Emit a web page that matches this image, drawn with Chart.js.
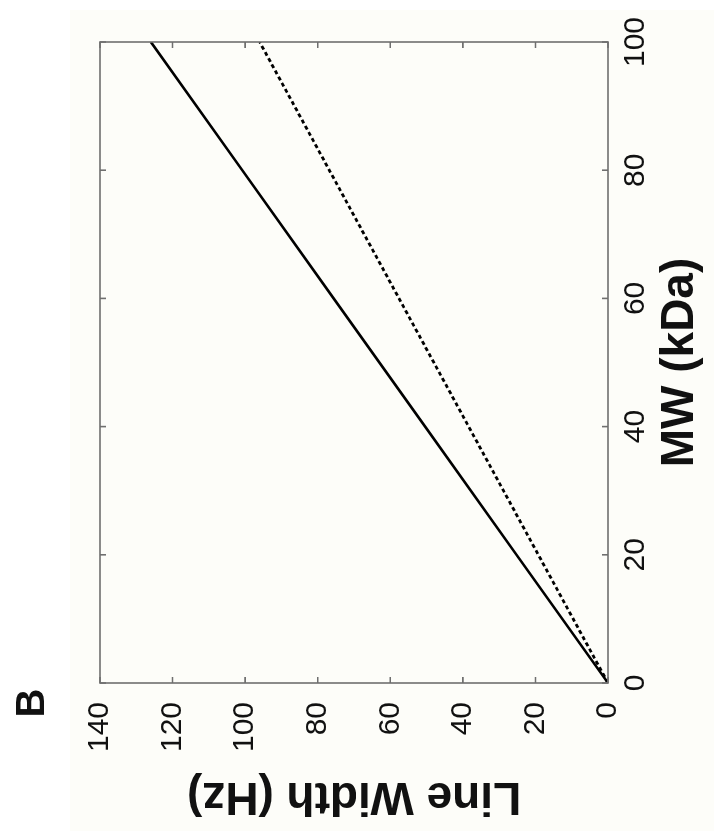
<!DOCTYPE html>
<html>
<head>
<meta charset="utf-8">
<script src="https://cdn.jsdelivr.net/npm/chart.js@4/dist/chart.umd.min.js"></script>
<style>
  html, body { margin: 0; padding: 0; background: #ffffff; overflow: hidden; }
  #wrap {
    position: absolute; left: 0; top: 0; width: 831px; height: 714px;
    transform-origin: 0 0;
    transform: translateY(831px) rotate(-90deg);
  }
</style>
</head>
<body>
<div id="wrap"><canvas id="c" width="831" height="714"></canvas></div>
<script>
// Data (figure is shown rotated 90° counter-clockwise)
const mwValues = [0, 20, 40, 60, 80, 100];                 // MW (kDa)
const solidLineWidth = [0, 25.2, 50.4, 75.6, 100.8, 126];   // solid curve (Hz)
const dashedLineWidth = [0, 19.2, 38.4, 57.6, 76.8, 96];    // dashed curve (Hz)
const xTicks = [0, 20, 40, 60, 80, 100];
const yTicks = [0, 20, 40, 60, 80, 100, 120, 140];
const xTitle = 'MW (kDa)';
const yTitle = 'Line Width (Hz)';
const panelLabel = 'B';

const FONT = "'Liberation Sans', Arial, Helvetica, sans-serif";
const AXIS_COLOR = '#6f6f6f';

const toPts = (xs, ys) => xs.map((x, i) => ({ x: x, y: ys[i] }));

const framePlugin = {
  id: 'frame',
  beforeDraw(chart) {
    const ctx = chart.ctx;
    ctx.save();
    ctx.fillStyle = '#ffffff';
    ctx.fillRect(0, 0, chart.width, chart.height);
    ctx.fillStyle = '#fdfdf9';
    ctx.fillRect(0, 70, 821, chart.height - 70);
    ctx.restore();
  },
  afterDraw(chart) {
    const ctx = chart.ctx;
    const a = chart.chartArea;
    const xs = chart.scales.x, ys = chart.scales.y;
    const tl = 6;
    ctx.save();
    ctx.strokeStyle = AXIS_COLOR;
    ctx.lineWidth = 1.6;
    ctx.beginPath();
    xTicks.forEach(v => {
      const p = xs.getPixelForValue(v);
      ctx.moveTo(p, a.bottom); ctx.lineTo(p, a.bottom - tl);
      ctx.moveTo(p, a.top); ctx.lineTo(p, a.top + tl);
    });
    yTicks.forEach(v => {
      const p = ys.getPixelForValue(v);
      ctx.moveTo(a.left, p); ctx.lineTo(a.left + tl, p);
      ctx.moveTo(a.right, p); ctx.lineTo(a.right - tl, p);
    });
    ctx.stroke();
    ctx.strokeRect(a.left, a.top, a.right - a.left, a.bottom - a.top);
    ctx.fillStyle = '#111';
    ctx.font = 'bold 40px ' + FONT;
    ctx.textAlign = 'center';
    ctx.textBaseline = 'middle';
    ctx.fillText(panelLabel, 128, 33);
    ctx.restore();
  }
};

new Chart(document.getElementById('c'), {
  type: 'scatter',
  data: {
    datasets: [
      {
        label: 'solid',
        data: toPts(mwValues, solidLineWidth),
        showLine: true,
        borderColor: '#000000',
        borderWidth: 2.6,
        pointRadius: 0,
        tension: 0
      },
      {
        label: 'dashed',
        data: toPts(mwValues, dashedLineWidth),
        showLine: true,
        borderColor: '#000000',
        borderWidth: 2.8,
        borderDash: [4, 3],
        pointRadius: 0,
        tension: 0
      }
    ]
  },
  options: {
    responsive: false,
    animation: false,
    devicePixelRatio: 1,
    layout: { padding: { left: 0, right: 42, top: 100, bottom: 0 } },
    plugins: { legend: { display: false }, tooltip: { enabled: false } },
    scales: {
      x: {
        type: 'linear', min: 0, max: 100,
        afterBuildTicks: s => { s.ticks = xTicks.map(v => ({ value: v })); },
        afterFit: s => { s.height = 106; },
        grid: { display: false, drawTicks: false, tickLength: 0 },
        border: { display: false },
        ticks: { color: '#111', font: { family: FONT, size: 30 }, padding: 10, maxRotation: 0, autoSkip: false },
        title: { display: true, text: xTitle, color: '#111', font: { family: FONT, size: 46, weight: 'bold' }, padding: { top: 0, bottom: 6 } }
      },
      y: {
        type: 'linear', min: 0, max: 140,
        afterBuildTicks: s => { s.ticks = yTicks.map(v => ({ value: v })); },
        afterFit: s => { s.width = 148; },
        grid: { display: false, drawTicks: false, tickLength: 0 },
        border: { display: false },
        ticks: { color: '#111', font: { family: FONT, size: 30 }, padding: 19, autoSkip: false },
        title: { display: true, text: yTitle, color: '#111', font: { family: FONT, size: 46, weight: 'bold' }, padding: { top: 8, bottom: 0 } }
      }
    }
  },
  plugins: [framePlugin]
});
</script>
</body>
</html>
